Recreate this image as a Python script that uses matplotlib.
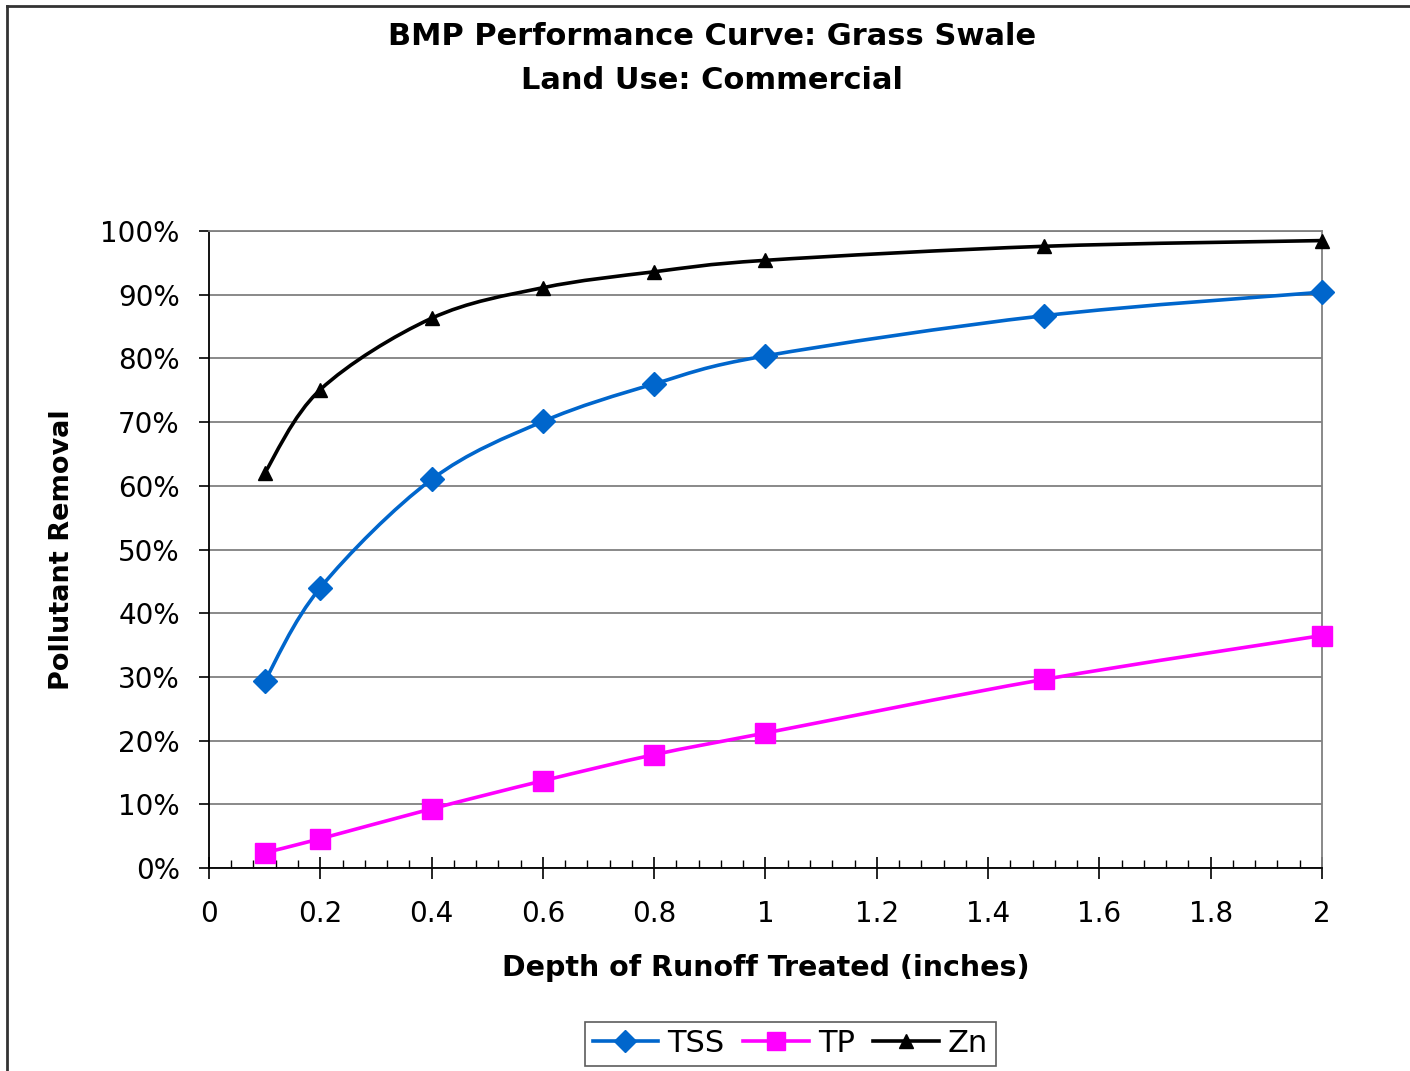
import numpy as np
import matplotlib

matplotlib.use("Agg")
import matplotlib.pyplot as plt
from matplotlib.path import Path
from matplotlib.patches import PathPatch
from matplotlib.lines import Line2D
from matplotlib.ticker import MultipleLocator, FuncFormatter

plt.rcParams["font.family"] = ["DejaVu Sans"]

# data
depth = [0.1, 0.2, 0.4, 0.6, 0.8, 1.0, 1.5, 2.0]
tss = [29.3, 44.0, 61.0, 70.1, 76.0, 80.4, 86.7, 90.4]
tp = [2.4, 4.6, 9.3, 13.7, 17.8, 21.2, 29.6, 36.5]
zn = [62.0, 75.1, 86.3, 91.1, 93.6, 95.4, 97.6, 98.5]

series = [
    ("TSS", tss, "#0066CC", "D", 12),
    ("TP", tp, "#FF00FF", "s", 14),
    ("Zn", zn, "black", "^", 10),
]

TITLE = "BMP Performance Curve: Grass Swale\nLand Use: Commercial"
XLABEL = "Depth of Runoff Treated (inches)"
YLABEL = "Pollutant Removal"


def smooth_path(x, y):
    # Excel style smoothed line: Catmull-Rom segments as cubic Bezier curves
    pts = np.column_stack([x, y]).astype(float)
    n = len(pts)
    verts = [pts[0]]
    codes = [Path.MOVETO]
    for i in range(n - 1):
        p0 = pts[i - 1] if i > 0 else pts[i]
        p1 = pts[i]
        p2 = pts[i + 1]
        p3 = pts[i + 2] if i + 2 < n else pts[i + 1]
        c1 = p1 + (p2 - p0) / 6.0
        c2 = p2 - (p3 - p1) / 6.0
        verts += [c1, c2, p2]
        codes += [Path.CURVE4] * 3
    return Path(verts, codes)


fig = plt.figure(figsize=(14.1, 10.71), dpi=100)
ax = fig.add_axes([0.1482, 0.1895, 0.7894, 0.5948])

for name, vals, color, marker, ms in series:
    patch = PathPatch(smooth_path(depth, vals), facecolor="none", edgecolor=color,
                      lw=2.6, zorder=3, capstyle="round", joinstyle="round")
    ax.add_patch(patch)
    ax.plot(depth, vals, linestyle="none", marker=marker, ms=ms, color=color,
            mec=color, zorder=4, clip_on=False)

ax.set_xlim(0, 2)
ax.set_ylim(0, 100)
ax.xaxis.set_major_locator(MultipleLocator(0.2))
ax.xaxis.set_minor_locator(MultipleLocator(0.04))
ax.yaxis.set_major_locator(MultipleLocator(10))
ax.xaxis.set_major_formatter(FuncFormatter(lambda v, p: f"{v:g}"))
ax.yaxis.set_major_formatter(FuncFormatter(lambda v, p: f"{v:.0f}%"))

ax.grid(axis="y", color="#808080", lw=1.3, zorder=1)
ax.set_axisbelow(True)
for side in ["top", "right"]:
    ax.spines[side].set_color("#808080")
    ax.spines[side].set_linewidth(1.3)
for side in ["left", "bottom"]:
    ax.spines[side].set_color("black")
    ax.spines[side].set_linewidth(1.3)

ax.tick_params(axis="x", which="major", direction="inout", length=16, width=1.2,
               labelsize=20, pad=15)
ax.tick_params(axis="x", which="minor", direction="in", length=6, width=1.0)
ax.tick_params(axis="y", which="major", direction="out", length=7, width=1.2,
               labelsize=20, pad=14)

ax.set_xlabel(XLABEL, fontsize=20.5, fontweight="bold", labelpad=18.5)
ax.set_ylabel(YLABEL, fontsize=19.5, fontweight="bold", labelpad=18)

fig.text(0.505, 0.979, TITLE, ha="center", va="top", fontsize=22,
         fontweight="bold", linespacing=1.62)

handles = [Line2D([], [], color=c, lw=2.6, marker=m, ms=ms * 0.95, mec=c)
           for _, _, c, m, ms in series]
leg = fig.legend(handles, [s[0] for s in series], loc="center",
                 bbox_to_anchor=(0.5606, 0.0255), ncol=3, fontsize=22,
                 frameon=True, fancybox=False, edgecolor="#333333",
                 handlelength=2.15, handletextpad=0.3, columnspacing=0.6,
                 borderpad=0.25)
leg.get_frame().set_linewidth(1.2)

# outer chart border (top and left visible in the reference)
fig.add_artist(Line2D([0.005, 0.005], [0.0, 0.9945], transform=fig.transFigure,
                      color="#333333", lw=2))
fig.add_artist(Line2D([0.005, 1.0], [0.9945, 0.9945], transform=fig.transFigure,
                      color="#333333", lw=2))

fig.savefig("out.png", dpi=100)
